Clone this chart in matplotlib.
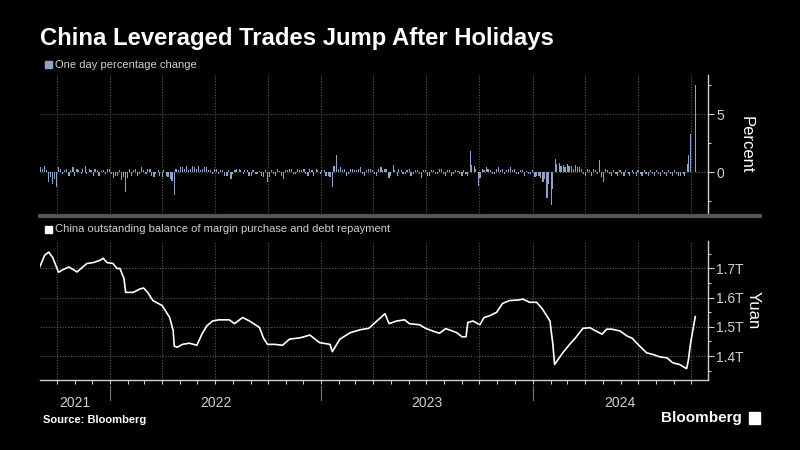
import matplotlib
matplotlib.use("Agg")
import matplotlib.pyplot as plt
import matplotlib.dates as mdates
import matplotlib.transforms as mtransforms
from matplotlib.patches import Rectangle
from matplotlib.lines import Line2D
import pandas as pd

plt.rcParams['font.family'] = ['Liberation Sans', 'DejaVu Sans']

# ---------------- data ----------------
title = "China Leveraged Trades Jump After Holidays"
legend_top = "One day percentage change"
legend_bottom = "China outstanding balance of margin purchase and debt repayment"
source = "Source: Bloomberg"

# one-day percentage changes (approximate)
# end-of-week readings
weekly_start = "2021-09-03"
weekly_pct = [
    0.4, 0.5, -0.9, -1.0, -1.3, 0.3, 0.2, -0.3, 0.4, 0.3,
    -0.2, 0.5, 0.3, -0.3, 0.2, 0.1, -0.2, 0.3, -0.5, -0.3,
    -0.7, -1.75, 0.3, 0.2, -0.3, 0.4, -0.2, 0.3, -0.4, 0.2,
    -0.4, -0.3, -0.6, -1.95, 0.2, 0.4, 0.5, 0.3, 0.4, 0.5,
    0.3, 0.4, 0.2, 0.3, -0.2, 0.2, -0.3, -0.6, 0.2, 0.3,
    -0.2, 0.2, -0.3, -0.2, 0.1, -0.4, -0.9, 0.2, -0.3, 0.1,
    -0.6, 0.2, 0.3, -0.2, 0.2, 0.3, -0.3, 0.2, 0.3, -0.2,
    0.2, -0.3, -1.3, 1.45, 0.4, 0.3, -0.2, 0.3, 0.2, 0.4,
    -0.3, 0.3, 0.2, -0.3, 0.4, 0.3, -0.5, 0.6, -0.3, 0.2,
    -0.2, 0.3, -0.2, 0.2, -0.5, 0.2, -0.3, 0.2, -0.2, 0.3,
    -0.3, 0.2, -0.2, 0.1, -0.3, -0.2, 1.8, 0.5, -1.2, 0.3,
    0.4, 0.2, -0.2, 0.4, 0.3, 0.2, 0.4, 0.3, -0.2, 0.2,
    0.1, -0.2, -0.4, -0.3, -0.9, -2.2, -2.8, 1.1, 0.8, 0.6,
    0.7, 0.5, 0.6, 0.4, -0.2, 0.3, -0.3, 0.2, 1.0, -0.9,
    0.2, -0.3, -0.2, 0.2, -0.3, -0.2, 0.2, -0.3, -0.2, 0.2,
    -0.3, -0.2, 0.2, -0.3, -0.2, 0.2, -0.3, -0.2, -0.3,
]
# start-of-week readings
midweek_start = "2021-09-06"
midweek_pct = [
    0.3, 0.2, -0.4, -0.6, 0.4, -0.2, 0.3, 0.2, -0.3, 0.2,
    0.3, -0.2, 0.2, 0.3, -0.3, 0.2, 0.3, -0.2, -0.3, 0.2,
    -0.4, -0.5, -0.3, 0.3, -0.2, 0.2, 0.3, -0.3, -0.2, -0.3,
    0.2, -0.4, -0.8, 0.3, 0.4, 0.3, 0.2, 0.5, 0.3, 0.2,
    0.4, 0.2, -0.2, 0.3, 0.2, -0.3, 0.2, -0.2, 0.3, 0.2,
    0.2, -0.3, 0.2, -0.2, -0.3, 0.2, -0.4, -0.2, 0.3, -0.3,
    0.2, 0.3, -0.2, 0.3, 0.2, -0.2, 0.3, -0.3, 0.2, 0.2,
    -0.3, -0.4, 0.5, 0.3, 0.2, -0.3, 0.3, 0.2, 0.3, -0.2,
    0.2, 0.3, -0.2, 0.3, 0.2, 0.3, -0.3, 0.2, 0.3, -0.2,
    0.2, -0.3, 0.2, -0.2, 0.2, -0.3, 0.2, -0.2, 0.3, -0.2,
    0.2, -0.3, 0.2, -0.2, 0.2, -0.3, 0.6, 0.3, -0.5, 0.2,
    0.3, -0.2, 0.3, 0.2, -0.2, 0.3, 0.2, -0.2, 0.2, -0.3,
    -0.2, 0.2, -0.3, -0.5, -0.6, -1.0, -1.5, 0.7, 0.5, 0.4,
    0.5, 0.3, 0.4, 0.3, -0.3, 0.2, 0.3, -0.2, -0.4, 0.3,
    -0.2, 0.2, -0.3, -0.2, 0.2, -0.3, -0.2, 0.2, -0.3, -0.2,
    0.2, -0.3, -0.2, 0.2, -0.3, -0.2, 0.2, -0.3,
]
# final daily changes around the holiday
final_dates = ["2024-09-18", "2024-09-20", "2024-09-24", "2024-09-25",
               "2024-09-26", "2024-09-27", "2024-09-30", "2024-10-08"]
final_pct = [-0.2, -0.3, 0.5, 0.7, 0.9, 1.5, 3.3, 7.5]

# outstanding margin balance (trillion yuan)
bal_dates = [
    "2021-09-02", "2021-09-10", "2021-09-17", "2021-09-24", "2021-10-04", "2021-10-12",
    "2021-10-22", "2021-11-05", "2021-11-22", "2021-12-03", "2021-12-15", "2021-12-20",
    "2021-12-27", "2022-01-06", "2022-01-13", "2022-01-18", "2022-01-25", "2022-01-28",
    "2022-02-10", "2022-02-22", "2022-02-28", "2022-03-07", "2022-03-16", "2022-04-01",
    "2022-04-14", "2022-04-20", "2022-04-22", "2022-04-27", "2022-05-06", "2022-05-18",
    "2022-05-31", "2022-06-09", "2022-06-17", "2022-06-27", "2022-07-08", "2022-07-26",
    "2022-08-04", "2022-08-18", "2022-08-30", "2022-09-16", "2022-09-23", "2022-09-30",
    "2022-10-12", "2022-10-26", "2022-11-07", "2022-11-24", "2022-12-02", "2022-12-12",
    "2022-12-29", "2023-01-16", "2023-01-20", "2023-02-02", "2023-02-20", "2023-03-09",
    "2023-03-24", "2023-04-07", "2023-04-21", "2023-04-28", "2023-05-11", "2023-05-25",
    "2023-06-02", "2023-06-20", "2023-06-30", "2023-07-12", "2023-07-24", "2023-08-04",
    "2023-08-23", "2023-09-01", "2023-09-08", "2023-09-11", "2023-09-20", "2023-10-02",
    "2023-10-09", "2023-10-19", "2023-10-31", "2023-11-10", "2023-11-22", "2023-12-08",
    "2023-12-15", "2023-12-27", "2024-01-08", "2024-01-18", "2024-01-31", "2024-02-05",
    "2024-02-08", "2024-02-22", "2024-03-05", "2024-03-15", "2024-03-28", "2024-04-09",
    "2024-04-19", "2024-04-30", "2024-05-08", "2024-05-17", "2024-05-31", "2024-06-12",
    "2024-06-21", "2024-07-04", "2024-07-16", "2024-07-26", "2024-08-08", "2024-08-20",
    "2024-08-30", "2024-09-11", "2024-09-23", "2024-09-24", "2024-09-25", "2024-09-26",
    "2024-09-27", "2024-09-30", "2024-10-08",
]
bal_values = [
    1.707, 1.745, 1.756, 1.737, 1.687, 1.696,
    1.705, 1.688, 1.717, 1.720, 1.728, 1.735,
    1.720, 1.717, 1.700, 1.700, 1.666, 1.618,
    1.618, 1.630, 1.633, 1.618, 1.590, 1.573,
    1.532, 1.488, 1.434, 1.430, 1.440, 1.444,
    1.437, 1.476, 1.503, 1.520, 1.524, 1.524,
    1.511, 1.532, 1.520, 1.498, 1.462, 1.440,
    1.440, 1.437, 1.458, 1.462, 1.466, 1.472,
    1.446, 1.440, 1.415, 1.458, 1.480, 1.490,
    1.495, 1.520, 1.545, 1.511, 1.520, 1.524,
    1.511, 1.507, 1.495, 1.486, 1.478, 1.494,
    1.480, 1.466, 1.466, 1.515, 1.520, 1.507,
    1.532, 1.538, 1.550, 1.580, 1.590, 1.592,
    1.595, 1.584, 1.584, 1.561, 1.520, 1.440,
    1.371, 1.411, 1.440, 1.462, 1.495, 1.497,
    1.486, 1.475, 1.492, 1.492, 1.486, 1.469,
    1.461, 1.434, 1.411, 1.406, 1.397, 1.394,
    1.377, 1.371, 1.357, 1.365, 1.375, 1.385,
    1.400, 1.445, 1.535,
]

years = [2021, 2022, 2023, 2024]
x_start, x_end = "2021-09-02", "2024-10-30"

# ---------------- styling ----------------
BG = "black"
BAR = "#8ea3c6"
GRID = "#5a5a5a"
TXT = "#d0d0d0"

fig = plt.figure(figsize=(8, 4.5), dpi=100, facecolor=BG)
W, H = 800, 450

def fx(px):
    return px / W

def fy(py):
    return 1 - py / H

ax1 = fig.add_axes([fx(40), fy(215), fx(708) - fx(40), fy(75) - fy(215)])
ax2 = fig.add_axes([fx(40), fy(380), fx(708) - fx(40), fy(240.7) - fy(380)])

xmin, xmax = pd.Timestamp(x_start), pd.Timestamp(x_end)

# top bars
wdates = pd.date_range(weekly_start, periods=len(weekly_pct), freq="7D")
mdates_ = pd.date_range(midweek_start, periods=len(midweek_pct), freq="7D")
all_dates = list(wdates) + list(mdates_) + [pd.Timestamp(d) for d in final_dates]
all_pct = list(weekly_pct) + list(midweek_pct) + list(final_pct)
ax1.bar(all_dates, all_pct, width=2.0, color=BAR, linewidth=0, zorder=3)

# bottom line
ax2.plot(pd.to_datetime(bal_dates), bal_values, color="white", lw=1.2, zorder=3,
         solid_joinstyle="round")

for ax in (ax1, ax2):
    ax.set_facecolor(BG)
    ax.set_xlim(xmin, xmax)
    for s in ("left", "top"):
        ax.spines[s].set_visible(False)
    ax.spines["right"].set_color("#cfcfcf")
    ax.spines["right"].set_linewidth(1.0)
    ax.yaxis.tick_right()
    ax.tick_params(axis="y", which="major", colors="#cfcfcf", labelcolor=TXT,
                   labelsize=10, length=4, width=0.8, pad=2)
    ax.tick_params(axis="y", which="minor", colors="#cfcfcf", length=2.5, width=0.8)
    ax.xaxis.set_major_locator(mdates.MonthLocator(bymonth=[1, 4, 7, 10]))
    ax.xaxis.set_minor_locator(mdates.MonthLocator())
    ax.grid(axis="x", which="major", color=GRID, linestyle=(0, (1, 1.5)), lw=0.8, zorder=0)
    ax.grid(axis="y", which="major", color=GRID, linestyle=(0, (1, 1.5)), lw=0.8, zorder=0)

# top axis specifics
ax1.set_ylim(-3.7, 8.36)
ax1.set_yticks([0, 5])
ax1.set_yticks([-2.5, 2.5, 7.5], minor=True)
ax1.spines["bottom"].set_visible(False)
ax1.tick_params(axis="x", which="both", bottom=False, labelbottom=False)
ax1.text(1.057, 0.5, "Percent", transform=ax1.transAxes, rotation=270, color="white",
         fontsize=12, ha="center", va="center")

# bottom axis specifics
ax2.set_ylim(1.318, 1.795)
ax2.set_yticks([1.4, 1.5, 1.6, 1.7])
ax2.set_yticks([1.35, 1.45, 1.55, 1.65, 1.75], minor=True)
ax2.yaxis.set_major_formatter(plt.FuncFormatter(lambda v, p: f"{v:.1f}T"))
ax2.spines["bottom"].set_color("#cfcfcf")
ax2.spines["bottom"].set_linewidth(1.0)
ax2.tick_params(axis="x", which="both", colors="#cfcfcf", length=3, width=0.8,
                labelbottom=False)
ax2.text(1.068, 0.5, "Yuan", transform=ax2.transAxes, rotation=270, color="white",
         fontsize=12, ha="center", va="center")

# year labels and separators below bottom axis
trans = mtransforms.blended_transform_factory(ax2.transData, ax2.transAxes)
for i, yr in enumerate(years):
    lo = max(pd.Timestamp(f"{yr}-01-01"), xmin)
    hi = min(pd.Timestamp(f"{yr + 1}-01-01"), xmax)
    mid = lo + (hi - lo) / 2
    ax2.text(mid, -0.165, str(yr), transform=trans, ha="center", va="center",
             color=TXT, fontsize=10, clip_on=False)
    if i > 0:
        d = pd.Timestamp(f"{yr}-01-01")
        ax2.plot([d, d], [-0.04, -0.145], transform=trans, color="#777777",
                 lw=0.8, clip_on=False)

# separator between panels
fig.add_artist(Line2D([fx(40), fx(760)], [fy(216.5), fy(216.5)], color="#555555",
                      lw=3, transform=fig.transFigure))

# title
fig.text(fx(40), fy(38), title, color="white", fontsize=17.2, fontweight="bold",
         ha="left", va="center")

# legends
fig.add_artist(Rectangle((fx(45), fy(68)), fx(7), fy(61) - fy(68), color=BAR,
                         transform=fig.transFigure))
fig.text(fx(55), fy(64.5), legend_top, color=TXT, fontsize=8, ha="left", va="center")
fig.add_artist(Rectangle((fx(45), fy(233)), fx(7), fy(226) - fy(233), color="white",
                         transform=fig.transFigure))
fig.text(fx(55), fy(229.5), legend_bottom, color=TXT, fontsize=8, ha="left", va="center")

# footer
fig.text(fx(43), fy(420), source, color="white", fontsize=8, fontweight="bold",
         ha="left", va="center")
fig.text(fx(742), fy(418), "Bloomberg", color="white", fontsize=11, fontweight="bold",
         ha="right", va="center")
fig.add_artist(Rectangle((fx(749), fy(424)), fx(11), fy(412) - fy(424), color="white",
                         transform=fig.transFigure))

fig.savefig("out.png", dpi=100, facecolor=BG)
